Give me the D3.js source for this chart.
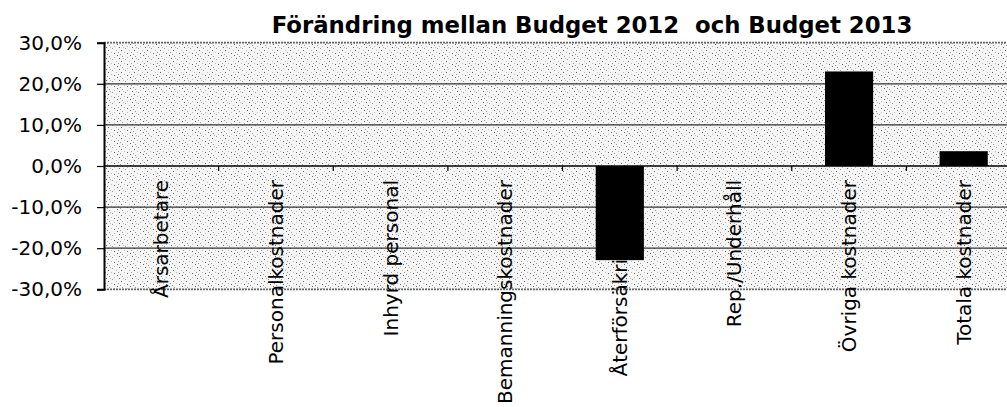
<!DOCTYPE html>
<html><head><meta charset="utf-8">
<script src="https://cdn.jsdelivr.net/npm/d3@7"></script>
<style>
html,body{margin:0;padding:0;background:#fff;}
svg{display:block;font-family:"DejaVu Sans",Verdana,sans-serif;}
</style></head>
<body><svg id="c" width="1007" height="407"></svg>
<script>
const title = "Förändring mellan Budget 2012  och Budget 2013";
const categories = ["Årsarbetare","Personalkostnader","Inhyrd personal","Bemanningskostnader","Återförsäkringsavg.","Rep./Underhåll","Övriga kostnader","Totala kostnader"];
const values = [0, 0, 0, 0, -0.229, 0, 0.230, 0.036];
const yTicks = [-0.3, -0.2, -0.1, 0, 0.1, 0.2, 0.3];

const svg = d3.select("#c");
const L = 104, R = 1021, T = 42.7, B = 289.3;

const x = d3.scaleBand().domain(categories).range([L, R]).paddingInner(0.58).paddingOuter(0.29);
const y = d3.scaleLinear().domain([-0.3, 0.3]).range([B, T]);

// stipple pattern
const defs = svg.append("defs");
const pat = defs.append("pattern").attr("id","stip").attr("patternUnits","userSpaceOnUse").attr("width",13).attr("height",11);
pat.append("rect").attr("width",13).attr("height",11).attr("fill","#f5f5f5");
const dots = [[0,0],[5,1],[10,2],[2,3],[8,4],[12,6],[4,6],[1,8],[7,8],[10,9],[3,10],[6,3]];
dots.forEach(([a,b],i)=>pat.append("rect").attr("x",a).attr("y",b).attr("width",1).attr("height",1).attr("fill", i%3===0? "#666": (i%3===1? "#999":"#bbb")));

svg.append("rect").attr("x",L).attr("y",T).attr("width",R-L).attr("height",B-T).attr("fill","url(#stip)");

// gridlines
svg.append("g").selectAll("line").data(yTicks.filter(d=>d!==0 && Math.abs(d)<0.3)).join("line")
  .attr("x1",L).attr("x2",R).attr("y1",d=>y(d)).attr("y2",d=>y(d))
  .attr("stroke","#333").attr("stroke-width",1.2);
// top and bottom stippled borders
[0.3,-0.3].forEach(v=>{
  svg.append("line").attr("x1",L).attr("x2",R).attr("y1",y(v)).attr("y2",y(v))
    .attr("stroke","#666").attr("stroke-width",1.8).attr("stroke-dasharray","2,1");
});

// x axis at zero (drawn below bars)
const xa = svg.append("g").attr("transform",`translate(0,${y(0)})`)
  .call(d3.axisBottom(x).tickSize(0).tickSizeOuter(0));
xa.select(".domain").attr("stroke","#000").attr("stroke-width",1.6).attr("d",`M${L},0H${R}`);
xa.selectAll("text").attr("font-size",20).attr("font-family","DejaVu Sans").attr("fill","#000")
  .attr("transform","rotate(-90)").attr("text-anchor","end").attr("x",-14).attr("y",0).attr("dy","0.35em");
const step = x.step();
xa.append("g").selectAll("line").data(d3.range(1,categories.length)).join("line")
  .attr("x1",i=>L+i*step).attr("x2",i=>L+i*step).attr("y1",0).attr("y2",5)
  .attr("stroke","#000").attr("stroke-width",1.2);

// bars
svg.append("g").selectAll("rect").data(categories.map((c,i)=>({c,v:values[i]}))).join("rect")
  .attr("x",d=>x(d.c)).attr("width",x.bandwidth())
  .attr("y",d=>y(Math.max(0,d.v))).attr("height",d=>Math.abs(y(d.v)-y(0)))
  .attr("fill","#000");

// y axis
const fmt = d => (d*100).toFixed(1).replace(".",",") + "%";
const ya = svg.append("g").attr("transform",`translate(${L},0)`)
  .call(d3.axisLeft(y).tickValues(yTicks).tickFormat(fmt).tickSize(7).tickPadding(15));
ya.select(".domain").attr("stroke","#000").attr("stroke-width",2);
ya.selectAll(".tick line").attr("stroke","#000").attr("stroke-width",1.2);
ya.selectAll("text").attr("font-size",20).attr("font-family","DejaVu Sans").attr("fill","#000");

// title
svg.append("text").attr("x",592).attr("y",33).attr("text-anchor","middle")
  .attr("font-size",22.8).attr("font-weight","bold").attr("font-family","DejaVu Sans")
  .style("white-space","pre").text(title);
</script></body></html>
